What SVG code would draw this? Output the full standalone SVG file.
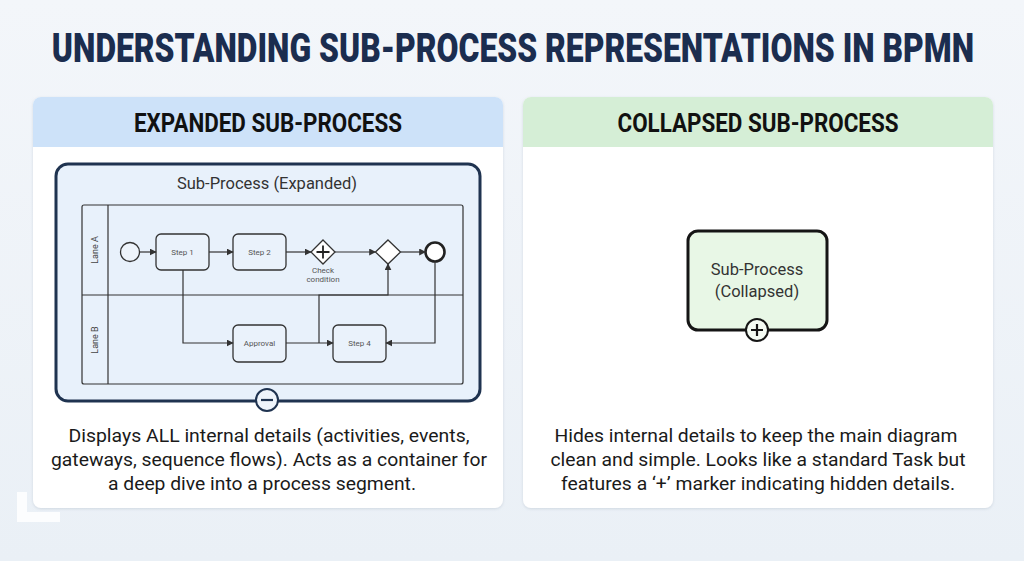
<svg xmlns="http://www.w3.org/2000/svg" width="1024" height="561" viewBox="0 0 1024 561">
<defs>
<linearGradient id="bg" x1="0" y1="0" x2="0" y2="1">
<stop offset="0" stop-color="#f3f6fa"/><stop offset="1" stop-color="#eaf0f6"/>
</linearGradient>
<marker id="arr" viewBox="0 0 10 10" refX="9" refY="5" markerWidth="7" markerHeight="7" orient="auto" markerUnits="userSpaceOnUse">
<path d="M0,0 L10,5 L0,10 z" fill="#333"/>
</marker>
<filter id="sh" x="-5%" y="-5%" width="110%" height="110%">
<feDropShadow dx="0" dy="1" stdDeviation="1.5" flood-color="#9aa7b8" flood-opacity="0.35"/>
</filter>
</defs>
<style>
.title{font-family:Roboto,"Liberation Sans",sans-serif;font-weight:900;font-size:41px;fill:#1b2d4f}
.hdr{font-family:Roboto,"Liberation Sans",sans-serif;font-weight:700;font-size:25px;fill:#111}
.desc{font-family:Roboto,"Liberation Sans",sans-serif;font-size:19px;fill:#1a1a1a}
.sm{font-family:Roboto,"Liberation Sans",sans-serif;font-size:9px;fill:#444}
.lbl{font-family:Roboto,"Liberation Sans",sans-serif;font-size:8px;fill:#555}
.sub{font-family:Roboto,"Liberation Sans",sans-serif;font-size:16.5px;fill:#333}
.task{fill:#eaf2fb;stroke:#333;stroke-width:1.3}
.flow{fill:none;stroke:#333;stroke-width:1.2}
.lane{fill:none;stroke:#333;stroke-width:1.2}
</style>
<rect width="1024" height="561" fill="url(#bg)"/>
<g transform="translate(513,62) scale(0.777,1)">
<text class="title" x="0" y="0" text-anchor="middle">UNDERSTANDING SUB-PROCESS REPRESENTATIONS IN BPMN</text>
</g>

<g id="card-expanded">
<rect x="33" y="97" width="470" height="411" rx="8" fill="#ffffff" filter="url(#sh)"/>
<path d="M33,147 V105 a8,8 0 0 1 8,-8 H495 a8,8 0 0 1 8,8 V147 z" fill="#cde2f9"/>
<text class="hdr" x="268" y="132" text-anchor="middle" textLength="268" lengthAdjust="spacingAndGlyphs">EXPANDED SUB-PROCESS</text>
<text class="desc" x="269" y="442" text-anchor="middle" textLength="401" lengthAdjust="spacingAndGlyphs">Displays ALL internal details (activities, events,</text>
<text class="desc" x="269" y="466" text-anchor="middle" textLength="436" lengthAdjust="spacingAndGlyphs">gateways, sequence flows). Acts as a container for</text>
<text class="desc" x="262" y="490" text-anchor="middle" textLength="308" lengthAdjust="spacingAndGlyphs">a deep dive into a process segment.</text>
</g>

<g id="card-collapsed">
<rect x="523" y="97" width="470" height="411" rx="8" fill="#ffffff" filter="url(#sh)"/>
<path d="M523,147 V105 a8,8 0 0 1 8,-8 H985 a8,8 0 0 1 8,8 V147 z" fill="#d5eed6"/>
<text class="hdr" x="758" y="132" text-anchor="middle" textLength="281" lengthAdjust="spacingAndGlyphs">COLLAPSED SUB-PROCESS</text>
<text class="desc" x="756" y="442" text-anchor="middle" textLength="403" lengthAdjust="spacingAndGlyphs">Hides internal details to keep the main diagram</text>
<text class="desc" x="758" y="466" text-anchor="middle" textLength="415" lengthAdjust="spacingAndGlyphs">clean and simple. Looks like a standard Task but</text>
<text class="desc" x="758" y="490" text-anchor="middle" textLength="394" lengthAdjust="spacingAndGlyphs">features a ‘+’ marker indicating hidden details.</text>
</g>

<g id="expanded-subprocess">
<rect x="56" y="164" width="424" height="237" rx="12" fill="#e8f1fb" stroke="#1f3350" stroke-width="3"/>
<text class="sub" x="267" y="189" text-anchor="middle">Sub-Process (Expanded)</text>
</g>

<g id="pool">
<rect x="82" y="205" width="381" height="179" rx="2" class="lane"/>
<line x1="108" y1="205" x2="108" y2="384" class="lane"/>
<line x1="82" y1="295" x2="463" y2="295" class="lane"/>
</g>
<g id="lane-a"><text class="sm" transform="translate(98,250) rotate(-90)" text-anchor="middle">Lane A</text></g>
<g id="lane-b"><text class="sm" transform="translate(98,340) rotate(-90)" text-anchor="middle">Lane B</text></g>

<g id="start"><circle cx="130" cy="252" r="9.5" fill="#eef4fb" stroke="#333" stroke-width="1.3"/></g>
<g id="step1"><rect x="156" y="234" width="53" height="36" rx="5" class="task"/><text class="lbl" x="182.5" y="255" text-anchor="middle">Step 1</text></g>
<g id="step2"><rect x="233" y="234" width="53" height="36" rx="5" class="task"/><text class="lbl" x="259.5" y="255" text-anchor="middle">Step 2</text></g>
<g id="parallel-gateway">
<path d="M323,240 L335,252 L323,264 L311,252 z" fill="#fff" stroke="#333" stroke-width="1.3"/>
<path d="M323,245.5 V258.5 M316.5,252 H329.5" stroke="#222" stroke-width="1.8"/>
<text class="lbl" x="323" y="273" text-anchor="middle">Check</text>
<text class="lbl" x="323" y="282" text-anchor="middle">condition</text>
</g>
<g id="exclusive-gateway"><path d="M388,240 L400.5,252 L388,264 L375.5,252 z" fill="#fff" stroke="#333" stroke-width="1.3"/></g>
<g id="end"><circle cx="435" cy="252" r="9.5" fill="#fff" stroke="#222" stroke-width="2.6"/></g>
<g id="approval"><rect x="233" y="325" width="53" height="37" rx="5" class="task"/><text class="lbl" x="259.5" y="346" text-anchor="middle">Approval</text></g>
<g id="step4"><rect x="333" y="325" width="53" height="37" rx="5" class="task"/><text class="lbl" x="359.5" y="346" text-anchor="middle">Step 4</text></g>

<g id="connectors">
<line x1="139.5" y1="252" x2="156" y2="252" class="flow" marker-end="url(#arr)"/>
<line x1="209" y1="252" x2="233" y2="252" class="flow" marker-end="url(#arr)"/>
<line x1="286" y1="252" x2="311" y2="252" class="flow" marker-end="url(#arr)"/>
<line x1="335" y1="252" x2="375.5" y2="252" class="flow" marker-end="url(#arr)"/>
<line x1="400.5" y1="252" x2="425.5" y2="252" class="flow" marker-end="url(#arr)"/>
<polyline points="183,270 183,343 233,343" class="flow" marker-end="url(#arr)"/>
<line x1="286" y1="343" x2="333" y2="343" class="flow" marker-end="url(#arr)"/>
<polyline points="319,343 319,295 388,295 388,264" class="flow" marker-end="url(#arr)"/>
<polyline points="435,261.5 435,343 386,343" class="flow" marker-end="url(#arr)"/>
</g>

<g id="collapse-marker">
<circle cx="267" cy="400" r="11" fill="#eef4fb" stroke="#1f3350" stroke-width="2"/>
<line x1="261" y1="400" x2="273" y2="400" stroke="#1f3350" stroke-width="2.2"/>
</g>

<g id="collapsed-subprocess">
<rect x="688" y="231" width="139" height="99" rx="10" fill="#e8f7e6" stroke="#151515" stroke-width="3"/>
<text class="sub" x="757" y="275" text-anchor="middle">Sub-Process</text>
<text class="sub" x="757" y="297" text-anchor="middle">(Collapsed)</text>
<circle cx="757" cy="330" r="11" fill="#f4fbf3" stroke="#151515" stroke-width="2"/>
<path d="M757,324 V336 M751,330 H763" stroke="#151515" stroke-width="2.2"/>
</g>

<path d="M17,492 H27 V512 H60 V522 H17 z" fill="#ffffff" opacity="0.85"/>
</svg>
